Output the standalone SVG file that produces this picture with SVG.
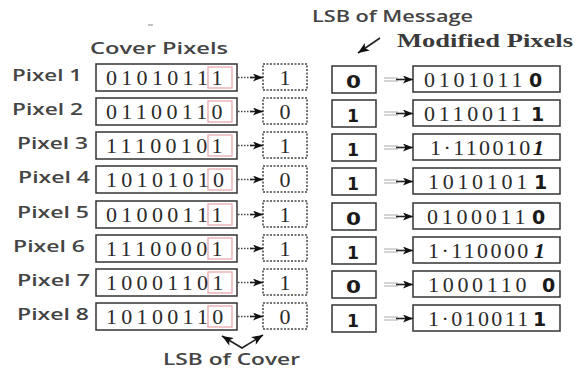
<svg xmlns="http://www.w3.org/2000/svg" width="577" height="371" viewBox="0 0 577 371">
  <style>
    .lbl { font-family: "Open Sans", "Liberation Sans", sans-serif; font-weight: 600; font-size: 17px; fill: #444; }
    .hdr { font-family: "Open Sans", "Liberation Sans", sans-serif; font-weight: 600; font-size: 15.5px; fill: #444; }
    .hdr-serif { font-family: "Liberation Serif", "DejaVu Serif", serif; font-weight: bold; font-size: 18.5px; fill: #3a3a3a; }
    .bits { font-family: "Liberation Serif", "DejaVu Serif", serif; font-size: 22px; fill: #2a2a2a; letter-spacing: 3.7px; }
    .bits.wide { letter-spacing: 4.3px; }
    .bits.dotted { letter-spacing: 2.4px; }
    .bit { font-family: "Liberation Serif", "DejaVu Serif", serif; font-size: 22px; fill: #2a2a2a; text-anchor: middle; }
    .msg { font-family: "DejaVu Sans", "Liberation Sans", sans-serif; font-weight: bold; font-size: 17px; fill: #1a1a1a; }
    .newbit { font-family: "DejaVu Sans", "Liberation Sans", sans-serif; font-weight: bold; font-size: 19px; fill: #1a1a1a; }
    .newbit-it { font-family: "Liberation Serif", "DejaVu Serif", serif; font-weight: bold; font-style: italic; font-size: 22px; fill: #1a1a1a; }
    .box { fill: #fff; stroke: #333; stroke-width: 1.5; }
    .dotbox { fill: #fff; stroke: #444; stroke-width: 1.5; stroke-dasharray: 2 1.5; }
    .lsb { fill: none; stroke: #e7aab0; stroke-width: 1.3; }
    .dotline { stroke: #444; stroke-width: 1.3; stroke-dasharray: 1.5 1.5; fill: none; }
    .faint { stroke: #aaa; stroke-width: 1; fill: none; }
    .solid { stroke: #222; stroke-width: 1.6; fill: none; }
  </style>
  <defs>
    <marker id="head" viewBox="0 0 10 8" refX="10" refY="4" markerWidth="10" markerHeight="8" markerUnits="userSpaceOnUse" orient="auto">
      <path d="M0,0 L10,4 L0,8 L2.5,4 Z" fill="#111"/>
    </marker>
    <marker id="head2" viewBox="0 0 10 8" refX="10" refY="4" markerWidth="12" markerHeight="9" markerUnits="userSpaceOnUse" orient="auto-start-reverse">
      <path d="M0,0 L10,4 L0,8 L2.5,4 Z" fill="#111"/>
    </marker>
  </defs>

  <!-- headings -->
  <g id="headings">
    <text class="hdr" x="312" y="22" textLength="161" lengthAdjust="spacingAndGlyphs">LSB of Message</text>
    <text class="hdr" x="90" y="54" textLength="138" lengthAdjust="spacingAndGlyphs" style="font-size:16px">Cover Pixels</text>
    <text class="hdr-serif" x="397" y="47" textLength="176" lengthAdjust="spacingAndGlyphs">Modified Pixels</text>
    <text class="hdr" x="163" y="365" textLength="137" lengthAdjust="spacingAndGlyphs">LSB of Cover</text>
    <line x1="148" y1="25" x2="153" y2="25" stroke="#888" stroke-width="1"/>
  </g>

  <!-- row labels -->
  <g id="labels">
    <text class="lbl" x="12" y="81" textLength="70" lengthAdjust="spacingAndGlyphs">Pixel 1</text>
    <text class="lbl" x="12" y="115" textLength="71" lengthAdjust="spacingAndGlyphs">Pixel 2</text>
    <text class="lbl" x="17" y="149" textLength="71" lengthAdjust="spacingAndGlyphs">Pixel 3</text>
    <text class="lbl" x="18" y="183" textLength="72" lengthAdjust="spacingAndGlyphs">Pixel 4</text>
    <text class="lbl" x="17" y="218" textLength="72" lengthAdjust="spacingAndGlyphs">Pixel 5</text>
    <text class="lbl" x="13" y="252" textLength="72" lengthAdjust="spacingAndGlyphs">Pixel 6</text>
    <text class="lbl" x="17" y="286" textLength="73" lengthAdjust="spacingAndGlyphs">Pixel 7</text>
    <text class="lbl" x="17" y="320" textLength="72" lengthAdjust="spacingAndGlyphs">Pixel 8</text>
  </g>

  <!-- cover pixels with highlighted LSB -->
  <g id="cover">
    <g id="cover-1"><rect class="box" x="96" y="64" width="141" height="27"/><rect class="lsb" x="208" y="67" width="24" height="21"/><text class="bits wide" x="106" y="85">01010111</text></g>
    <g id="cover-2"><rect class="box" x="96" y="98" width="141" height="27"/><rect class="lsb" x="208" y="101" width="24" height="21"/><text class="bits wide" x="106" y="119">01100110</text></g>
    <g id="cover-3"><rect class="box" x="96" y="132" width="141" height="27"/><rect class="lsb" x="208" y="135" width="24" height="21"/><text class="bits wide" x="106" y="153">11100101</text></g>
    <g id="cover-4"><rect class="box" x="96" y="166" width="141" height="27"/><rect class="lsb" x="208" y="169" width="24" height="21"/><text class="bits wide" x="106" y="187">10101010</text></g>
    <g id="cover-5"><rect class="box" x="96" y="201" width="141" height="27"/><rect class="lsb" x="208" y="204" width="24" height="21"/><text class="bits wide" x="106" y="222">01000111</text></g>
    <g id="cover-6"><rect class="box" x="96" y="235" width="141" height="27"/><rect class="lsb" x="208" y="238" width="24" height="21"/><text class="bits wide" x="106" y="256">11100001</text></g>
    <g id="cover-7"><rect class="box" x="96" y="269" width="141" height="27"/><rect class="lsb" x="208" y="272" width="24" height="21"/><text class="bits wide" x="106" y="290">10001101</text></g>
    <g id="cover-8"><rect class="box" x="96" y="303" width="141" height="27"/><rect class="lsb" x="208" y="306" width="24" height="21"/><text class="bits wide" x="106" y="324">10100110</text></g>
  </g>

  <!-- extracted LSBs -->
  <g id="extracted">
    <g id="lsb-1"><rect class="dotbox" x="263" y="64" width="44" height="26"/><text class="bit" x="285" y="85">1</text></g>
    <g id="lsb-2"><rect class="dotbox" x="263" y="98" width="44" height="26"/><text class="bit" x="285" y="119">0</text></g>
    <g id="lsb-3"><rect class="dotbox" x="263" y="132" width="44" height="26"/><text class="bit" x="285" y="153">1</text></g>
    <g id="lsb-4"><rect class="dotbox" x="263" y="166" width="44" height="26"/><text class="bit" x="285" y="187">0</text></g>
    <g id="lsb-5"><rect class="dotbox" x="263" y="201" width="44" height="26"/><text class="bit" x="285" y="222">1</text></g>
    <g id="lsb-6"><rect class="dotbox" x="263" y="235" width="44" height="26"/><text class="bit" x="285" y="256">1</text></g>
    <g id="lsb-7"><rect class="dotbox" x="263" y="269" width="44" height="26"/><text class="bit" x="285" y="290">1</text></g>
    <g id="lsb-8"><rect class="dotbox" x="263" y="303" width="44" height="26"/><text class="bit" x="285" y="324">0</text></g>
  </g>

  <!-- message bits -->
  <g id="message">
    <g id="msg-1"><rect class="box" x="332" y="66" width="44" height="27"/><text class="msg" x="346" y="88" textLength="15" lengthAdjust="spacingAndGlyphs">0</text></g>
    <g id="msg-2"><rect class="box" x="332" y="100" width="44" height="27"/><text class="msg" x="347" y="122" textLength="12" lengthAdjust="spacingAndGlyphs">1</text></g>
    <g id="msg-3"><rect class="box" x="332" y="134" width="44" height="27"/><text class="msg" x="347" y="156" textLength="12" lengthAdjust="spacingAndGlyphs">1</text></g>
    <g id="msg-4"><rect class="box" x="332" y="168" width="44" height="27"/><text class="msg" x="347" y="190" textLength="12" lengthAdjust="spacingAndGlyphs">1</text></g>
    <g id="msg-5"><rect class="box" x="332" y="203" width="44" height="27"/><text class="msg" x="346" y="225" textLength="15" lengthAdjust="spacingAndGlyphs">0</text></g>
    <g id="msg-6"><rect class="box" x="332" y="237" width="44" height="27"/><text class="msg" x="347" y="259" textLength="12" lengthAdjust="spacingAndGlyphs">1</text></g>
    <g id="msg-7"><rect class="box" x="332" y="271" width="44" height="27"/><text class="msg" x="346" y="293" textLength="15" lengthAdjust="spacingAndGlyphs">0</text></g>
    <g id="msg-8"><rect class="box" x="332" y="305" width="44" height="27"/><text class="msg" x="347" y="327" textLength="12" lengthAdjust="spacingAndGlyphs">1</text></g>
  </g>

  <!-- modified pixels -->
  <g id="modified">
    <g id="mod-1"><rect class="box" x="413" y="66" width="147" height="26"/><text class="bits" x="424" y="87">0101011</text><text class="newbit" x="529" y="87">0</text></g>
    <g id="mod-2"><rect class="box" x="413" y="100" width="147" height="26"/><text class="bits" x="424" y="121">0110011</text><text class="newbit" x="531" y="121">1</text></g>
    <g id="mod-3"><rect class="box" x="413" y="134" width="147" height="26"/><text class="bits dotted" x="430" y="155">1·110010</text><text class="newbit-it" x="533" y="155">1</text></g>
    <g id="mod-4"><rect class="box" x="413" y="168" width="147" height="26"/><text class="bits" x="428" y="189">1010101</text><text class="newbit" x="534" y="189">1</text></g>
    <g id="mod-5"><rect class="box" x="413" y="203" width="147" height="26"/><text class="bits" x="427" y="224">0100011</text><text class="newbit" x="532" y="224">0</text></g>
    <g id="mod-6"><rect class="box" x="413" y="237" width="147" height="26"/><text class="bits dotted" x="428" y="258">1·110000</text><text class="newbit-it" x="534" y="258">1</text></g>
    <g id="mod-7"><rect class="box" x="413" y="271" width="147" height="26"/><text class="bits" x="428" y="292">1000110</text><text class="newbit" x="542" y="292">0</text></g>
    <g id="mod-8"><rect class="box" x="413" y="305" width="147" height="26"/><text class="bits dotted" x="428" y="326">1·010011</text><text class="newbit" x="533" y="326">1</text></g>
  </g>

  <!-- connectors -->
  <g id="connectors">
    <!-- cover LSB to extracted bit -->
    <path class="dotline" d="M238,77.5 H252"/><line class="solid" x1="250" y1="77.5" x2="263" y2="77.5" marker-end="url(#head)" stroke-width="0.1"/>
    <path class="dotline" d="M238,111.5 H252"/><line class="solid" x1="250" y1="111.5" x2="263" y2="111.5" marker-end="url(#head)" stroke-width="0.1"/>
    <path class="dotline" d="M238,145.5 H252"/><line class="solid" x1="250" y1="145.5" x2="263" y2="145.5" marker-end="url(#head)" stroke-width="0.1"/>
    <path class="dotline" d="M238,179.5 H252"/><line class="solid" x1="250" y1="179.5" x2="263" y2="179.5" marker-end="url(#head)" stroke-width="0.1"/>
    <path class="dotline" d="M238,214.5 H252"/><line class="solid" x1="250" y1="214.5" x2="263" y2="214.5" marker-end="url(#head)" stroke-width="0.1"/>
    <path class="dotline" d="M238,248.5 H252"/><line class="solid" x1="250" y1="248.5" x2="263" y2="248.5" marker-end="url(#head)" stroke-width="0.1"/>
    <path class="dotline" d="M238,282.5 H252"/><line class="solid" x1="250" y1="282.5" x2="263" y2="282.5" marker-end="url(#head)" stroke-width="0.1"/>
    <path class="dotline" d="M238,316.5 H252"/><line class="solid" x1="250" y1="316.5" x2="263" y2="316.5" marker-end="url(#head)" stroke-width="0.1"/>

    <!-- message bit to modified pixel -->
    <path class="faint" d="M384,78 H398 M384,81 H398"/><line class="solid" x1="396" y1="79.5" x2="413" y2="79.5" marker-end="url(#head)"/>
    <path class="faint" d="M384,112 H398 M384,115 H398"/><line class="solid" x1="396" y1="113.5" x2="413" y2="113.5" marker-end="url(#head)"/>
    <path class="faint" d="M384,146 H398 M384,149 H398"/><line class="solid" x1="396" y1="147.5" x2="413" y2="147.5" marker-end="url(#head)"/>
    <path class="faint" d="M384,180 H398 M384,183 H398"/><line class="solid" x1="396" y1="181.5" x2="413" y2="181.5" marker-end="url(#head)"/>
    <path class="faint" d="M384,215 H398 M384,218 H398"/><line class="solid" x1="396" y1="216.5" x2="413" y2="216.5" marker-end="url(#head)"/>
    <path class="faint" d="M384,249 H398 M384,252 H398"/><line class="solid" x1="396" y1="250.5" x2="413" y2="250.5" marker-end="url(#head)"/>
    <path class="faint" d="M384,283 H398 M384,286 H398"/><line class="solid" x1="396" y1="284.5" x2="413" y2="284.5" marker-end="url(#head)"/>
    <path class="faint" d="M384,317 H398 M384,320 H398"/><line class="solid" x1="396" y1="318.5" x2="413" y2="318.5" marker-end="url(#head)"/>

    <!-- pointer to message bits -->
    <line class="solid" x1="380" y1="38" x2="358" y2="53" marker-end="url(#head2)"/>
    <!-- pointers to cover LSB and extracted bit -->
    <path class="solid" d="M222,336 L242,348 L263,335" marker-start="url(#head2)" marker-end="url(#head2)"/>
  </g>
</svg>
